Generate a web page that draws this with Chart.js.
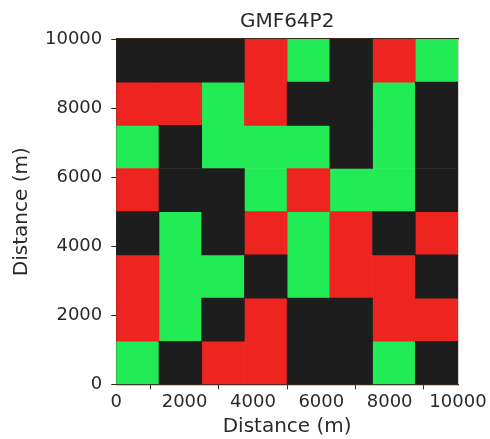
<!DOCTYPE html>
<html>
<head>
<meta charset="utf-8">
<script src="https://cdn.jsdelivr.net/npm/chart.js@4/dist/chart.umd.min.js"></script>
<style>
  body { margin: 0; background: #fff; }
  #wrap { width: 490px; height: 439px; }
</style>
</head>
<body>
<div id="wrap"><canvas id="chartGrid"></canvas></div>
<script>
// cell edges (m)
const xEdges = [0, 1250, 2500, 3750, 5000, 6250, 7500, 8750, 10000];
const yEdges = [0, 1250, 2500, 3750, 5000, 6250, 7500, 8750, 10000];

// cell classes, top row first: K = black, R = red, G = green
const gridRows = [
    ['K', 'K', 'K', 'R', 'G', 'K', 'R', 'G'],
    ['R', 'R', 'G', 'R', 'K', 'K', 'G', 'K'],
    ['G', 'K', 'G', 'G', 'G', 'K', 'G', 'K'],
    ['R', 'K', 'K', 'G', 'R', 'G', 'G', 'K'],
    ['K', 'G', 'K', 'R', 'G', 'R', 'K', 'R'],
    ['R', 'G', 'G', 'K', 'G', 'R', 'R', 'K'],
    ['R', 'G', 'K', 'R', 'K', 'K', 'R', 'R'],
    ['G', 'K', 'R', 'R', 'K', 'K', 'G', 'K']
];

const classes = ['K', 'R', 'G'];
const classColors = { K: '#1d1d1d', R: '#ee2420', G: '#22ec55' };
const axisTicks = [0, 2000, 4000, 6000, 8000, 10000];

const tickFont = { family: 'DejaVu Sans', size: 18 };
const labelFont = { family: 'DejaVu Sans', size: 20 };
const textColor = '#2a2a2a';
const frameColor = '#3a2a1c';

const cellsFor = (cls) => {
    const cells = [];
    const nRows = gridRows.length;
    gridRows.forEach((row, r) => {
        const yi = nRows - 1 - r;
        row.forEach((c, j) => {
            if (c !== cls) return;
            cells.push({
                x: (xEdges[j] + xEdges[j + 1]) / 2,
                y: [yEdges[yi], yEdges[yi + 1]]
            });
        });
    });
    return cells;
};

const setTicks = s => { s.ticks = axisTicks.map(v => ({ value: v })); };

const ctx = document.getElementById('chartGrid').getContext('2d');

new Chart(ctx, {
    type: 'bar',
    data: {
        datasets: classes.map(cls => ({
            label: cls,
            data: cellsFor(cls),
            backgroundColor: classColors[cls],
            borderWidth: 0,
            barPercentage: 1,
            categoryPercentage: 1,
            grouped: false
        }))
    },
    options: {
        responsive: true,
        maintainAspectRatio: false,
        animation: false,
        layout: { padding: { left: 10, right: 32, top: 10, bottom: 0 } },
        plugins: {
            legend: { display: false },
            tooltip: { enabled: false }
        },
        scales: {
            x: {
                type: 'linear',
                offset: false,
                min: 0,
                max: 10000,
                afterBuildTicks: setTicks,
                ticks: { color: textColor, font: tickFont, padding: 2, maxRotation: 0, callback: v => String(v) },
                grid: { drawOnChartArea: false, drawTicks: true, tickLength: 5, tickColor: textColor },
                border: { color: frameColor, width: 1.2 },
                title: { display: true, text: 'Distance (m)', color: textColor, font: labelFont, padding: { top: 0, bottom: 0 } }
            },
            y: {
                type: 'linear',
                min: 0,
                max: 10000,
                afterBuildTicks: setTicks,
                ticks: { color: textColor, font: tickFont, padding: 9, callback: v => String(v) },
                grid: { drawOnChartArea: false, drawTicks: true, tickLength: 5, tickColor: textColor },
                border: { color: frameColor, width: 1.2 },
                title: { display: true, text: 'Distance (m)', color: textColor, font: labelFont, padding: { top: 0, bottom: 2 } }
            },
            x2: {
                type: 'linear',
                position: 'top',
                offset: false,
                min: 0,
                max: 10000,
                ticks: { display: false },
                grid: { drawOnChartArea: false, drawTicks: false },
                border: { color: frameColor, width: 1.2 },
                title: { display: true, text: 'GMF64P2', color: textColor, font: labelFont, padding: { top: 0, bottom: 5 } }
            },
            y2: {
                type: 'linear',
                position: 'right',
                min: 0,
                max: 10000,
                ticks: { display: false },
                grid: { drawOnChartArea: false, drawTicks: false },
                border: { color: frameColor, width: 1.2 }
            }
        }
    }
});
</script>
</body>
</html>
